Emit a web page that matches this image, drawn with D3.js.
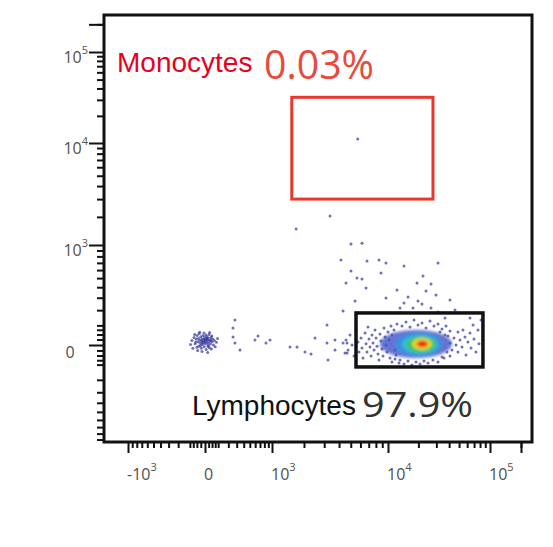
<!DOCTYPE html>
<html>
<head>
<meta charset="utf-8">
<script src="https://cdn.jsdelivr.net/npm/d3@7"></script>
<style>
  html, body { margin: 0; padding: 0; background: #fff; }
  svg { display: block; }
</style>
</head>
<body>
<svg id="chart" width="553" height="547"></svg>
<script>
// axis decades (logicle-ish, drawn with a piecewise symlog scale)
const X_DECADES = [-1000, 0, 1000, 10000, 100000];
const Y_DECADES = [-1000, 0, 1000, 10000, 100000];
const X_LABEL_TICKS = [-1000, 0, 1000, 10000, 100000];
const Y_LABEL_TICKS = [0, 1000, 10000, 100000];
const MINOR_MULTIPLES = [1, 2, 3, 4, 5, 6, 7, 8, 9];
const MINOR_DECADES = [100, 1000, 10000, 100000];
const NEAR_ZERO_TICKS = [25, 50, 75];

// gates
const gateNames = ['Monocytes', 'Lymphocytes'];
const gatePercents = ['0.03%', '97.9%'];
const monoGateX = [1550, 27800];
const monoGateY = [3000, 32000];
const lymphGateX = [5520, 85400];
const lymphGateY = [-114, 180];

// events [x, y]
const debrisEvents = [
  [-85, 20], [-70, 35], [-62, 5], [-55, 28], [-50, -10], [-48, 45], [-42, 15], [-40, 30], [-38, -5], [-35, 55],
  [-30, 22], [-28, 8], [-25, 38], [-22, -15], [-20, 18], [-18, 28], [-15, 2], [-12, 45], [-10, 12], [-8, 25],
  [-5, -8], [-3, 35], [0, 15], [2, 5], [5, 28], [8, -20], [10, 18], [12, 40], [15, 8], [18, 25],
  [20, -5], [22, 32], [25, 14], [28, 50], [30, -12], [35, 22], [38, 6], [42, 35], [45, -18], [50, 15],
  [55, 28], [60, 0], [68, 20], [75, -8], [85, 12], [95, 30], [-95, 2], [-78, -15], [-65, 50], [-45, -25],
  [-32, 62], [-18, -30], [-6, 58], [6, 48], [18, -35], [32, 60], [48, 42], [-58, 14], [-26, -2], [14, 30],
  [40, 20], [-2, 22], [-14, 10], [24, -2]
];

const scatterEvents = [
  [3360, 2040], [1700, 1500], [5020, 1030], [6180, 1050], [4150, 743], [6780, 728], [8470, 743], [9640, 698],
  [14420, 655], [31120, 698], [5020, 588], [8790, 562], [5620, 501], [6180, 490], [4570, 445], [22190, 525],
  [19370, 445], [26580, 434], [6660, 392], [12290, 372], [23740, 362], [9640, 298], [15790, 306], [29750, 325],
  [5420, 272], [19810, 272], [21690, 247], [14420, 255], [4320, 194], [13160, 216], [17690, 216], [26580, 216],
  [31120, 187], [40780, 280], [45620, 201], [36440, 146],
  [278, 133], [254, 85], [254, 37], [278, 9], [345, -23], [596, 23], [657, 42], [840, 9], [944, 23],
  [1493, -9], [1731, -9], [2043, -32], [2307, -42], [2500, 32], [3170, 102], [3170, 9], [3700, 23],
  [3700, -23], [4480, -37], [3230, -74], [4660, 9]
];

const lymphEvents = [
  [4570, 23], [4750, -23], [4930, 47], [5120, 0], [5320, -52], [5520, 74], [5730, 14], [5840, -32],
  [6060, 32], [6180, -14], [6290, -63], [6540, 58], [6660, 5], [6780, -32], [6910, 91], [7040, 27],
  [7170, -9], [7310, -52], [7440, 47], [7580, 9], [7730, -23], [7870, 74], [8020, 32], [8170, -5],
  [8320, -42], [8470, -74], [8630, 52], [8790, 18], [8960, -18], [9120, -52], [9290, 85], [9470, 37],
  [9640, 0], [9820, -32], [10000, 63], [10230, 23], [10470, -63], [10710, 96], [10960, -85], [11480, 74],
  [11740, -68], [12290, 108], [12870, -91],
  [13160, -74], [14420, -96], [15790, -80], [17290, -102], [18940, -85], [20730, -96], [22690, -80],
  [24840, -91], [27810, -74], [31120, -85], [35630, -63], [40780, -52],
  [13770, 96], [15090, 120], [16530, 91], [18100, 133], [19810, 102], [21690, 114], [23740, 85],
  [25990, 127], [28440, 96], [31120, 108], [34060, 80], [37260, 96], [40780, 69],
  [38980, 42], [40780, 9], [42650, -23], [44600, 32], [46650, 0], [48790, 63], [48790, -32], [51050, 23],
  [53400, -9], [54600, 74], [57090, 37], [58400, -47], [61000, 14], [63870, 58], [65350, -14], [68400, 102],
  [69900, 27], [73000, -32], [76400, 74], [78100, 5], [81700, 133], [63870, 146],
  [4320, 9], [4660, -37], [10960, 47], [11740, -23], [12580, 14], [36440, 47], [38100, -32], [34060, -58],
  [12000, -47], [32560, 63]
];

const monoEvents = [[5700, 11100]];

// density levels of the lymphocyte cloud, outer to inner: [low, high]
const densityX = [[8630, 42650], [11740, 34060], [13770, 31120], [15440, 29090], [17290, 27190], [18510, 25410], [19810, 24280]];
const densityY = [[-63, 74], [-52, 58], [-42, 47], [-32, 37], [-23, 32], [-13.5, 23], [-9, 18]];
const densityColors = ['#3f52c4', '#3a8fe2', '#2fc0cc', '#44c250', '#e6e22e', '#f2a230', '#e8261e'];

const frame = { left: 104, top: 15, right: 532, bottom: 442 };

const svg = d3.select('#chart');

const x = d3.scaleSymlog().constant(300).domain(X_DECADES).range([128, 205, 272, 388, 490]);
const y = d3.scaleSymlog().constant(300).domain(Y_DECADES).range([445, 345, 245, 143, 52]);

const defs = svg.append('defs');
defs.append('filter').attr('id', 'soft').attr('x', '-50%').attr('y', '-50%').attr('width', '200%').attr('height', '200%')
  .append('feGaussianBlur').attr('stdDeviation', 1.8);
defs.append('filter').attr('id', 'dot')
  .append('feGaussianBlur').attr('stdDeviation', 0.4);

function minorTicks(scale, lo, hi) {
  const vals = [];
  for (const v of NEAR_ZERO_TICKS) vals.push(v, -v);
  for (const d of MINOR_DECADES) {
    for (const m of MINOR_MULTIPLES) {
      const v = m * d;
      if (m === 1 && d >= 1000) continue;
      vals.push(v, -v);
    }
  }
  return vals.filter((v) => scale(v) >= lo && scale(v) <= hi);
}

// ticks
const tickColor = '#111';
const xMinor = minorTicks(x, frame.left + 2, frame.right - 2);
const yMinor = minorTicks(y, frame.top + 2, frame.bottom - 1);

function styleAxis(g) {
  g.select('.domain').remove();
  g.selectAll('.tick line').attr('stroke', tickColor).attr('stroke-width', 2);
}

svg.append('g').attr('transform', `translate(0,${frame.bottom})`)
  .call(d3.axisBottom(x).tickValues(xMinor).tickSize(6).tickFormat(''))
  .call(styleAxis);
svg.append('g').attr('transform', `translate(0,${frame.bottom})`)
  .call(d3.axisBottom(x).tickValues(X_DECADES.concat([200000])).tickSize(11).tickFormat(''))
  .call(styleAxis);
svg.append('g').attr('transform', `translate(${frame.left},0)`)
  .call(d3.axisLeft(y).tickValues(yMinor).tickSize(7).tickFormat(''))
  .call(styleAxis);
svg.append('g').attr('transform', `translate(${frame.left},0)`)
  .call(d3.axisLeft(y).tickValues(Y_LABEL_TICKS.concat([200000])).tickSize(15).tickFormat(''))
  .call(styleAxis);

function labelParts(v) {
  if (v === 0) return ['0', ''];
  return [(v < 0 ? '-' : '') + '10', String(Math.round(Math.log10(Math.abs(v))))];
}

function drawLabel(sel) {
  sel.each(function (d) {
    const [base, exp] = labelParts(d);
    const t = d3.select(this);
    t.append('tspan').text(base);
    if (exp) t.append('tspan').attr('dy', -9).attr('font-size', 11).text(exp);
  });
}

const labelFont = '"Open Sans", "DejaVu Sans", sans-serif';

svg.append('g').selectAll('text').data(X_LABEL_TICKS).join('text')
  .attr('x', (d) => x(d) - 1)
  .attr('y', 480)
  .attr('font-family', labelFont).attr('font-size', 16).attr('fill', '#505050')
  .call(drawLabel);

svg.append('g').selectAll('text').data(Y_LABEL_TICKS).join('text')
  .attr('x', (d) => (d === 0 ? 70 : 88))
  .attr('y', (d) => y(d) + (d === 0 ? 13 : 11))
  .attr('text-anchor', (d) => (d === 0 ? 'middle' : 'end'))
  .attr('font-family', labelFont).attr('font-size', 16).attr('fill', '#505050')
  .call(drawLabel);

// events
const dots = svg.append('g').attr('filter', 'url(#dot)');
for (const events of [debrisEvents, scatterEvents, lymphEvents, monoEvents]) {
  dots.append('g').selectAll('circle').data(events).join('circle')
    .attr('cx', (d) => x(d[0]))
    .attr('cy', (d) => y(d[1]))
    .attr('r', 1.5)
    .attr('fill', '#34349c')
    .attr('fill-opacity', 0.7);
}

// density core
svg.append('g').attr('filter', 'url(#soft)')
  .selectAll('ellipse').data(densityX).join('ellipse')
  .attr('cx', (d) => (x(d[0]) + x(d[1])) / 2)
  .attr('rx', (d) => (x(d[1]) - x(d[0])) / 2)
  .attr('cy', (d, i) => (y(densityY[i][0]) + y(densityY[i][1])) / 2)
  .attr('ry', (d, i) => (y(densityY[i][0]) - y(densityY[i][1])) / 2)
  .attr('fill', (d, i) => densityColors[i])
  .attr('fill-opacity', (d, i) => (i === 0 ? 0.8 : 1));

// gates
svg.append('rect')
  .attr('x', x(monoGateX[0])).attr('width', x(monoGateX[1]) - x(monoGateX[0]))
  .attr('y', y(monoGateY[1])).attr('height', y(monoGateY[0]) - y(monoGateY[1]))
  .attr('fill', 'none').attr('stroke', '#e6392c').attr('stroke-width', 3);

svg.append('rect')
  .attr('x', x(lymphGateX[0])).attr('width', x(lymphGateX[1]) - x(lymphGateX[0]))
  .attr('y', y(lymphGateY[1])).attr('height', y(lymphGateY[0]) - y(lymphGateY[1]))
  .attr('fill', 'none').attr('stroke', '#111').attr('stroke-width', 3.5);

// frame
svg.append('rect')
  .attr('x', frame.left).attr('y', frame.top)
  .attr('width', frame.right - frame.left).attr('height', frame.bottom - frame.top)
  .attr('fill', 'none').attr('stroke', '#111').attr('stroke-width', 3);

// gate annotations
const nameFont = '"Liberation Sans", Arial, sans-serif';
const pctFont = '"Open Sans", "DejaVu Sans", sans-serif';

svg.append('text').attr('x', 117).attr('y', 72)
  .attr('font-family', nameFont).attr('font-size', 28).attr('fill', '#e8001e')
  .text(gateNames[0]);
svg.append('text').attr('x', 264).attr('y', 79)
  .attr('font-family', pctFont).attr('font-size', 41).attr('fill', '#e84a3c')
  .attr('textLength', 110).attr('lengthAdjust', 'spacingAndGlyphs')
  .text(gatePercents[0]);

svg.append('text').attr('x', 192).attr('y', 415)
  .attr('font-family', nameFont).attr('font-size', 28).attr('fill', '#111')
  .text(gateNames[1]);
svg.append('text').attr('x', 362).attr('y', 417)
  .attr('font-family', pctFont).attr('font-size', 34).attr('fill', '#333')
  .attr('textLength', 111).attr('lengthAdjust', 'spacingAndGlyphs')
  .text(gatePercents[1]);
</script>
</body>
</html>
